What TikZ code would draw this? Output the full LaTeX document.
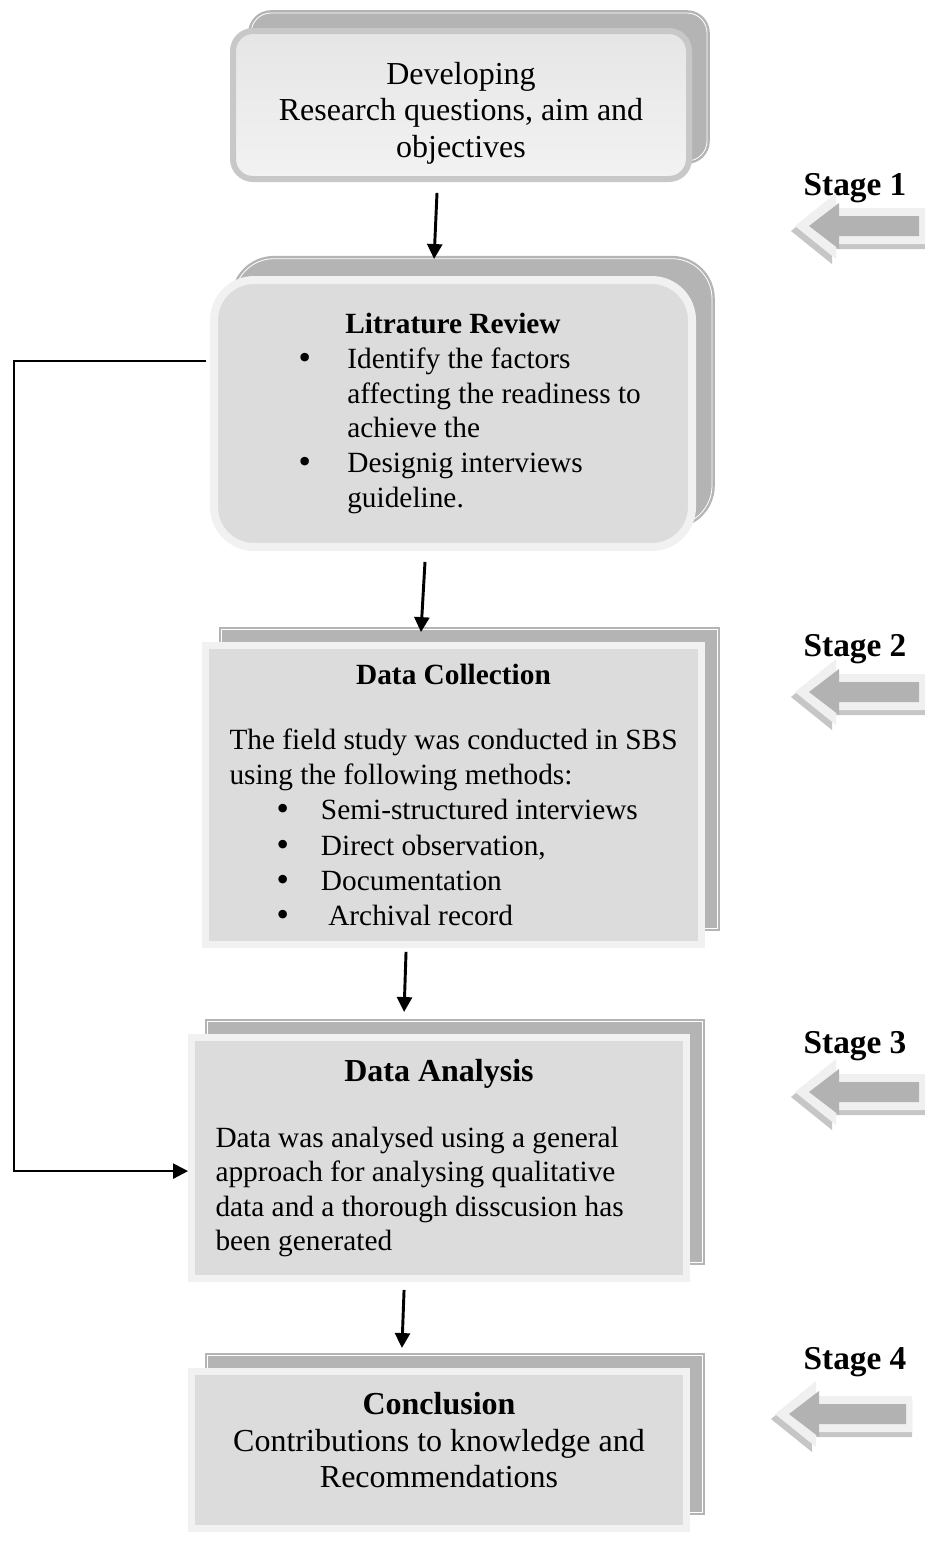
\documentclass[tikz,border=0pt]{standalone}
\usepackage{fontspec}
\setmainfont{Liberation Serif}
\newfontfamily\dotfont{DejaVu Sans}
\usetikzlibrary{positioning,shadows,arrows.meta}

\definecolor{boxfill}{RGB}{220,220,220}
\definecolor{boxrim}{RGB}{241,241,241}
\definecolor{backfill}{RGB}{180,180,180}
\definecolor{toprim}{RGB}{200,200,200}
\definecolor{arrowfill}{RGB}{178,178,178}
\definecolor{arrowrim}{RGB}{240,240,240}
\definecolor{arrowshade}{RGB}{198,198,198}

% bullet at #1 from the left, its text at #2
\newcommand{\bitem}[3]{\hspace*{#1}\makebox[\dimexpr#2-#1\relax][l]{\dotfont\textbullet}#3}
\newcommand{\ctitle}[1]{\hspace*{\fill}\textbf{#1}\hspace*{\fill}\null}

\begin{document}
\begin{tikzpicture}[x=0.375pt, y=-0.375pt,
        back/.style 2 args={
            copy shadow={shadow xshift=#1, shadow yshift=#2,
                fill=backfill, draw=backfill, line width=0.9pt,
                double=white, double distance=0.3pt}},
        topbox/.style={
            rectangle,
            rounded corners=7.5pt,
            draw=toprim, line width=2.25pt,
            top color=black!10, bottom color=black!5,
            back={6.75pt}{6.75pt},
            align=center,
            font=\fontsize{12}{13.8}\selectfont},
        litbox/.style={
            rectangle,
            rounded corners=15pt,
            draw=boxrim, line width=3pt,
            fill=boxfill,
            back={7.5pt}{8pt},
            inner sep=0pt,
            align=flush left,
            font=\fontsize{11}{13}\selectfont},
        box/.style={
            rectangle,
            draw=boxrim, line width=2.6pt,
            fill=boxfill,
            back={6pt}{6pt},
            inner sep=0pt},
        stage/.style={
            font=\fontsize{12.5}{15}\selectfont\bfseries},
        arrow/.style={
            line width=1.1pt,
            ->,
            >={Triangle[length=5.6pt,width=5.6pt]}},
        pics/stagearrow/.style={
            code={
            \fill[arrowshade] (-4,5) -- (37,-28) -- (37,-13) -- (#1,-13) -- (#1,23) -- (37,23) -- (37,38) -- cycle;
            \fill[arrowrim] (0,0) -- (41,-33) -- (41,-18) -- (#1,-18) -- (#1,18) -- (41,18) -- (41,33) -- cycle;
            \fill[arrowfill] (14,0) -- (44,-23) -- (44,-10) -- (#1-6,-10) -- (#1-6,10) -- (44,10) -- (44,23) -- cycle;
            }}
        ]

    \useasboundingbox (0,0) rectangle (925,1541);

    \node (develop) [topbox, minimum width=171pt, minimum height=55.5pt] at (461,105)
        {\rule{0pt}{14.5pt}Developing\\Research questions, aim and\\objectives};
    \node (review) [litbox, minimum width=179.25pt, minimum height=100.1pt, text width=179.25pt] at (453,413.5)
        {\ctitle{Litrature Review}\\
         \bitem{31pt}{50pt}{Identify the factors}\\
         \hspace*{50pt}affecting the readiness to\\
         \hspace*{50pt}achieve the\\
         \bitem{31pt}{50pt}{Designig interviews}\\
         \hspace*{50pt}guideline.};
    \node (collect) [box, minimum width=186pt, minimum height=112.1pt, text width=186pt, align=flush left,
        font=\fontsize{11}{13.2}\selectfont] at (453.5,795)
        {\ctitle{Data Collection}\\[11.2pt]
         \hspace*{9pt}The field study was conducted in SBS\\
         \hspace*{9pt}using the following methods:\\
         \bitem{26pt}{43.3pt}{Semi-structured interviews}\\
         \bitem{26pt}{43.3pt}{Direct observation,}\\
         \bitem{26pt}{43.3pt}{Documentation}\\
         \bitem{26pt}{43.3pt}{\ Archival record}};
    \node (analyse) [box, minimum width=185.6pt, minimum height=90.4pt, text width=185.6pt, align=flush left,
        font=\fontsize{11}{12.8}\selectfont] at (439,1158)
        {\ctitle{\fontsize{12}{13.8}\selectfont Data Analysis}\\[12pt]
         \hspace*{9pt}Data was analysed using a general\\
         \hspace*{9pt}approach for analysing qualitative\\
         \hspace*{9pt}data and a thorough disscusion has\\
         \hspace*{9pt}been generated};
    \node (conclude) [box, minimum width=185.6pt, minimum height=58.9pt, align=center,
        font=\fontsize{12}{13.8}\selectfont] at (439,1450)
        {\textbf{Conclusion}\\Contributions to knowledge and\\Recommendations\\[-6.3pt]\mbox{}};

    % stages on the right
    \node (stage1) [stage] at (855,188) {Stage 1};
    \node (stage2) [stage] at (855,649) {Stage 2};
    \node (stage3) [stage] at (855,1046) {Stage 3};
    \node (stage4) [stage] at (855,1362) {Stage 4};
    \pic at (795,226) {stagearrow=130};
    \pic at (795,692) {stagearrow=130};
    \pic at (795,1092) {stagearrow=130};
    \pic at (775,1414) {stagearrow=137};

    \draw [arrow] ([xshift=-9pt,yshift=-4.1pt]develop.south) -- ([xshift=-7.1pt,yshift=6.4pt]review.north);
    \draw [arrow] ([xshift=-10.5pt,yshift=-4.1pt]review.south) -- ([xshift=-12.2pt,yshift=3.75pt]collect.north);
    \draw [arrow] ([xshift=-17.8pt,yshift=-1.5pt]collect.south) -- ([xshift=-13.1pt,yshift=8.25pt]analyse.north);
    \draw [arrow] ([xshift=-13.1pt,yshift=-3pt]analyse.south) -- ([xshift=-13.9pt,yshift=7.5pt]conclude.north);

    % back from the review to the analysis
    \draw [arrow, line width=0.9pt] ([xshift=-1.5pt,yshift=19.7pt]review.west) -- ++(-192,0) |- ([yshift=-4.9pt]analyse.west);

\end{tikzpicture}
\end{document}
